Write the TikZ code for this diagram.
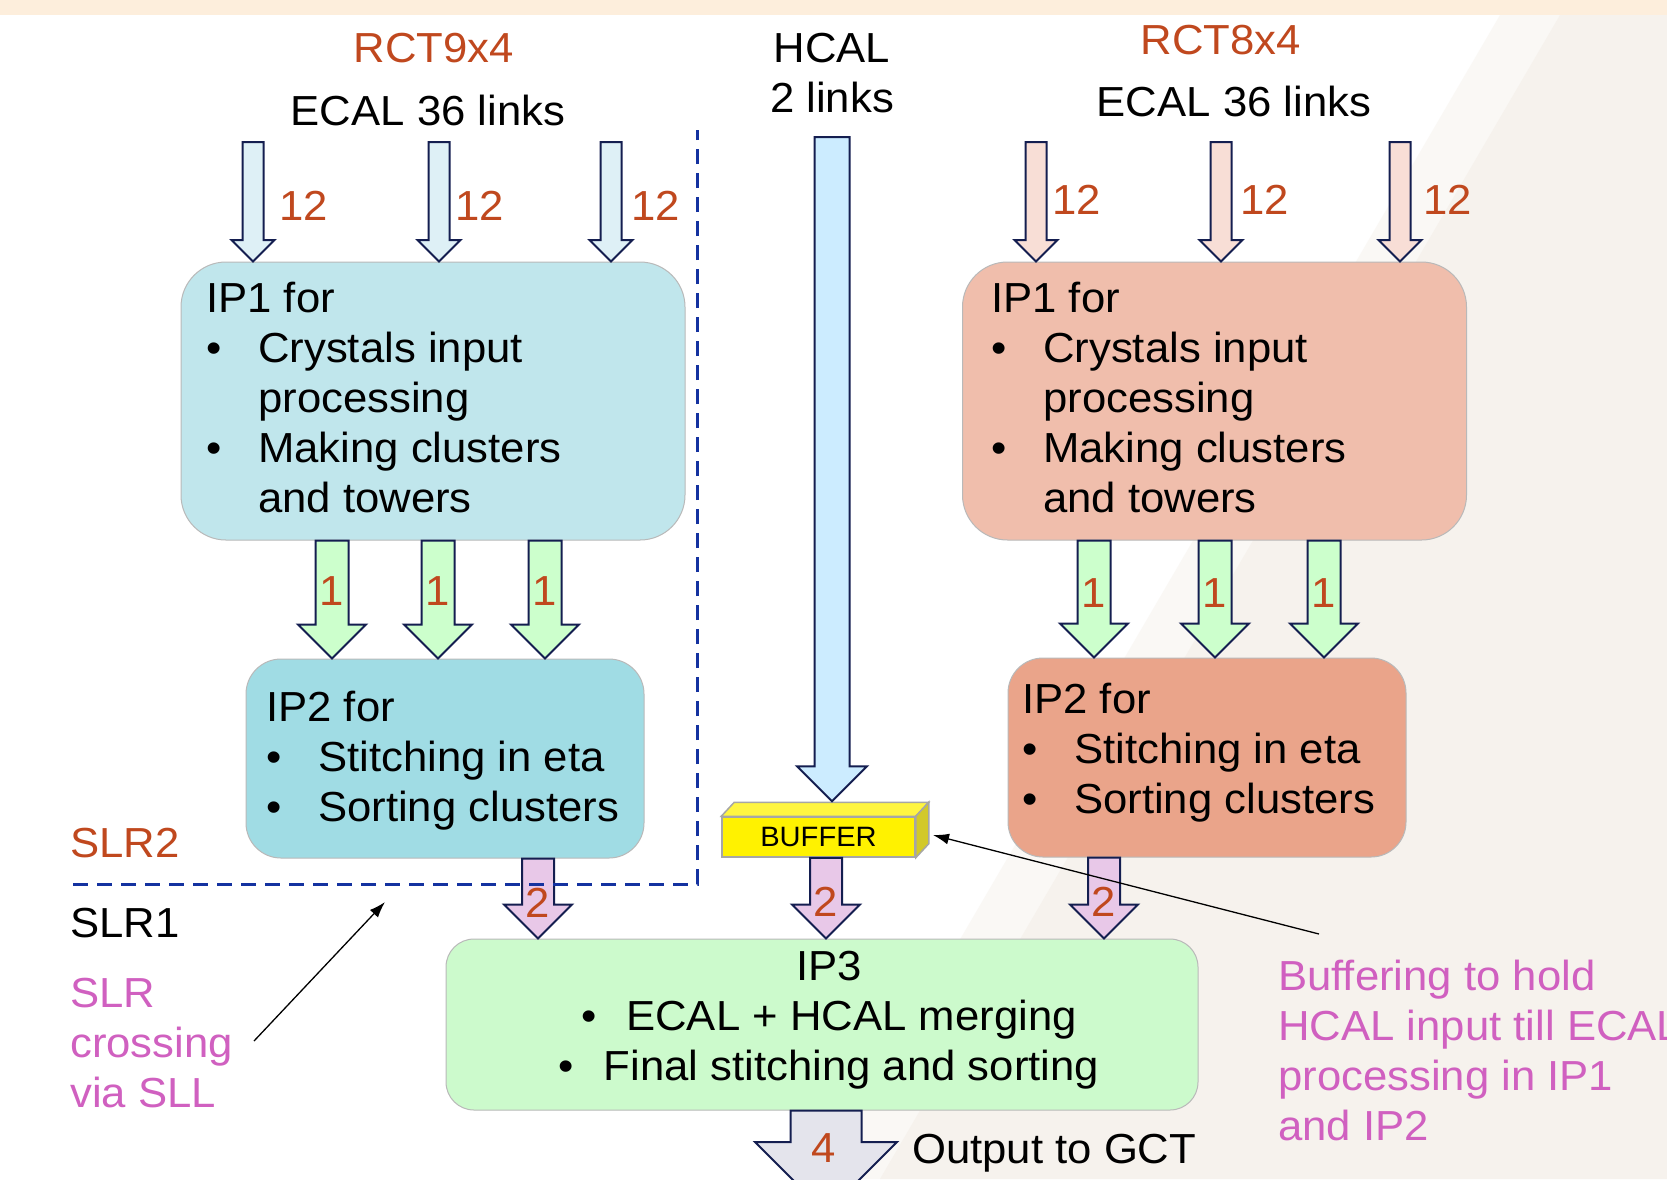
\documentclass[tikz,border=0pt]{standalone}
\usepackage{fontspec}
\setmainfont{Liberation Sans}[FakeStretch=1.04]
\usetikzlibrary{calc,arrows.meta}

\definecolor{numred}{RGB}{192,72,30}
\definecolor{notepink}{RGB}{208,96,192}
\definecolor{arrowline}{RGB}{20,30,80}
\definecolor{slrblue}{RGB}{20,50,160}
\definecolor{topband}{RGB}{253,238,220}
\definecolor{paper}{RGB}{246,242,237}
\definecolor{ipalight}{RGB}{192,230,236}
\definecolor{ipadark}{RGB}{160,220,228}
\definecolor{ipblight}{RGB}{240,190,172}
\definecolor{ipbdark}{RGB}{234,164,138}
\definecolor{ipmerge}{RGB}{204,250,204}
\definecolor{inleft}{RGB}{222,240,246}
\definecolor{inright}{RGB}{248,222,214}
\definecolor{linkgreen}{RGB}{204,255,204}
\definecolor{hcalfill}{RGB}{204,236,255}
\definecolor{linkpink}{RGB}{232,200,232}
\definecolor{outgray}{RGB}{228,228,236}

\newcommand{\boxfont}{\fontsize{42}{50}\selectfont}
\newcommand{\buffont}{\fontsize{28}{32}\selectfont}
\newcommand{\bulletitem}{\makebox[52pt][l]{\textbullet}}
\newcommand{\bulletgap}{\hspace*{52pt}}

% #1 style, #2 start, #3 tip, #4 half shaft, #5 half head (= head length)
\newcommand{\blockarrow}[5]{%
  \draw[#1] let \p1=#2, \p2=#3 in
    (\x1-#4,\y1) -- (\x1+#4,\y1) -- (\x1+#4,\y2+#5) -- (\x1+#5,\y2+#5)
    -- (\x1,\y2) -- (\x1-#5,\y2+#5) -- (\x1-#4,\y2+#5) -- cycle;}

\tikzset{
  box/.style={draw=gray!55, line width=1pt, inner sep=0pt},
  ip1box/.style={box, rounded corners=45pt, minimum width=504pt, minimum height=278pt},
  ip2box/.style={box, rounded corners=35pt, minimum width=398pt, minimum height=199pt},
  lbl/.style={inner sep=0pt, font=\boxfont, anchor=base},
  boxtext/.style={lbl, anchor=base west, align=left},
  numlbl/.style={lbl, text=numred},
  flow/.style={draw=arrowline, line width=2pt, line join=miter},
  note/.style={black, line width=1.3pt, -{Latex[length=16pt,width=11pt]}},
  slrline/.style={slrblue, line width=3pt, dash pattern=on 15pt off 9pt},
}

\begin{document}
\begin{tikzpicture}[x=1pt,y=-1pt]

    \useasboundingbox (0,0) rectangle (1667,1179);
    \fill[white] (0,0) rectangle (1667,1179);
    \fill[paper, opacity=0.5] (1500,15) -- (1667,15) -- (1667,1179) -- (820,1179) -- cycle;
    \fill[paper] (1560,15) -- (1667,15) -- (1667,1179) -- (880,1179) -- cycle;
    \fill[topband] (0,0) rectangle (1667,15);

    % processing blocks
    \node[ip1box, fill=ipalight] (ip1l) at (433,401) {};
    \node[ip1box, fill=ipblight] (ip1r) at (1214.5,401) {};
    \node[ip2box, fill=ipadark] (ip2l) at (445,758.5) {};
    \node[ip2box, fill=ipbdark] (ip2r) at (1207,757.5) {};
    \node[box, fill=ipmerge, rounded corners=28pt, minimum width=752pt, minimum height=171pt] (ip3) at (822,1024.5) {};
    \node[draw=gray!70, line width=1.5pt, fill=yellow, inner sep=0pt, font=\buffont,
          minimum width=193pt, minimum height=40pt] (buf) at (818.5,837) {BUFFER};
    \draw[gray!70, line width=1.5pt, fill=yellow!75!white] (buf.north west) -- ++(13,-14)
        -- ($(buf.north east)+(13,-14)$) -- (buf.north east) -- cycle;
    \draw[gray!70, line width=1.5pt, fill=yellow!80!black] (buf.north east) -- ++(13,-14)
        -- ($(buf.south east)+(13,-14)$) -- (buf.south east) -- cycle;

    % box texts (base = last line)
    \node[boxtext] (ip1ltxt) at (206,512) {IP1 for\\\bulletitem Crystals input\\\bulletgap processing\\\bulletitem Making clusters\\\bulletgap and towers};
    \node[boxtext] (ip1rtxt) at (991,512) {IP1 for\\\bulletitem Crystals input\\\bulletgap processing\\\bulletitem Making clusters\\\bulletgap and towers};
    \node[boxtext] (ip2ltxt) at (266,821) {IP2 for\\\bulletitem Stitching in eta\\\bulletitem Sorting clusters};
    \node[boxtext] (ip2rtxt) at (1022,813) {IP2 for\\\bulletitem Stitching in eta\\\bulletitem Sorting clusters};
    \node[lbl, align=center] (ip3txt) at (829,1080) {IP3\\\makebox[45pt][l]{\textbullet}ECAL + HCAL merging\\\makebox[45pt][l]{\textbullet}Final stitching and sorting};

    % headings
    \node[numlbl] (rct9) at (434,62) {RCT9x4};
    \node[lbl] (ecall) at (428,125) {ECAL 36 links};
    \node[lbl, align=center] (hcal) at (832,112) {HCAL\\2 links};
    \node[numlbl] (rct8) at (1221,54) {RCT8x4};
    \node[lbl] (ecalr) at (1234,116) {ECAL 36 links};

    % ECAL inputs
    \foreach \x/\dx [count=\i] in {253/26,439/16,611/20} {
        \coordinate (inl\i) at (\x,142);
        \blockarrow{flow, fill=inleft}{(inl\i)}{(inl\i |- ip1l.north)}{10.5pt}{21.5pt}
        \node[numlbl, anchor=base west] at ($(inl\i)+(\dx,78)$) {12};
    }
    \foreach \x/\dx [count=\i] in {1036/16,1221/19,1400/23} {
        \coordinate (inr\i) at (\x,142);
        \blockarrow{flow, fill=inright}{(inr\i)}{(inr\i |- ip1r.north)}{10.5pt}{21.5pt}
        \node[numlbl, anchor=base west] at ($(inr\i)+(\dx,72)$) {12};
    }

    % IP1 -> IP2
    \foreach \x [count=\i] in {332,438,545} {
        \coordinate (gl\i) at (\x,0);
        \blockarrow{flow, fill=linkgreen}{(gl\i |- ip1l.south)}{(gl\i |- ip2l.north)}{16.5pt}{34pt}
        \node[numlbl] at ($(gl\i |- ip1l.south)+(0,65)$) {1};
    }
    \foreach \x [count=\i] in {1094,1215,1324} {
        \coordinate (gr\i) at (\x,0);
        \blockarrow{flow, fill=linkgreen}{(gr\i |- ip1r.south)}{(gr\i |- ip2r.north)}{16.5pt}{34pt}
        \node[numlbl] at ($(gr\i |- ip1r.south)+(0,67)$) {1};
    }

    % HCAL into buffer
    \coordinate (hcalin) at (832,137);
    \blockarrow{flow, fill=hcalfill}{(hcalin)}{($(hcalin |- buf.north)+(0,-15)$)}{17.5pt}{35pt}

    % into IP3
    \coordinate (xl) at (538,0);
    \coordinate (xb) at (826,0);
    \coordinate (xr) at (1104,0);
    \blockarrow{flow, fill=linkpink}{(xl |- ip2l.south)}{(xl |- ip3.north)}{16pt}{34pt}
    \blockarrow{flow, fill=linkpink}{(xb |- buf.south)}{(xb |- ip3.north)}{16pt}{34pt}
    \blockarrow{flow, fill=linkpink}{(xr |- ip2r.south)}{(xr |- ip3.north)}{16pt}{34pt}
    \node[numlbl] at ($(xl |- ip2l.south)+(0,59)$) {2};
    \node[numlbl] at ($(xb |- buf.south)+(0,59)$) {2};
    \node[numlbl] at ($(xr |- ip2r.south)+(0,59)$) {2};

    % output
    \coordinate (gct) at (826,1213);
    \blockarrow{flow, fill=outgray}{(xb |- ip3.south)}{(gct)}{35.5pt}{71pt}
    \node[numlbl] at ($(xb |- ip3.south)+(-2,52)$) {4};
    \node[lbl, anchor=base west] (outlbl) at (912,1163) {Output to GCT};

    % SLR boundary
    \draw[slrline] (73,884) -- (697,884) -- (697,130);
    \node[numlbl, anchor=base west] (slr2) at (70,857) {SLR2};
    \node[lbl, anchor=base west] (slr1) at (70,937) {SLR1};
    \node[lbl, anchor=base west, align=left, text=notepink] (sll) at (70,1107) {SLR\\crossing\\via SLL};
    \node[lbl, anchor=base west, align=left, text=notepink] (bufnote) at (1278,1140) {Buffering to hold\\HCAL input till ECAL\\processing in IP1\\and IP2};

    % notes
    \coordinate (slrtail) at (254,1041);
    \coordinate (slrtip) at (385,902);
    \coordinate (buftail) at (1319,934);
    \coordinate (buftip) at (933,835);
    \draw[note] (slrtail) -- (slrtip);
    \draw[note] (buftail) -- (buftip);

\end{tikzpicture}
\end{document}
